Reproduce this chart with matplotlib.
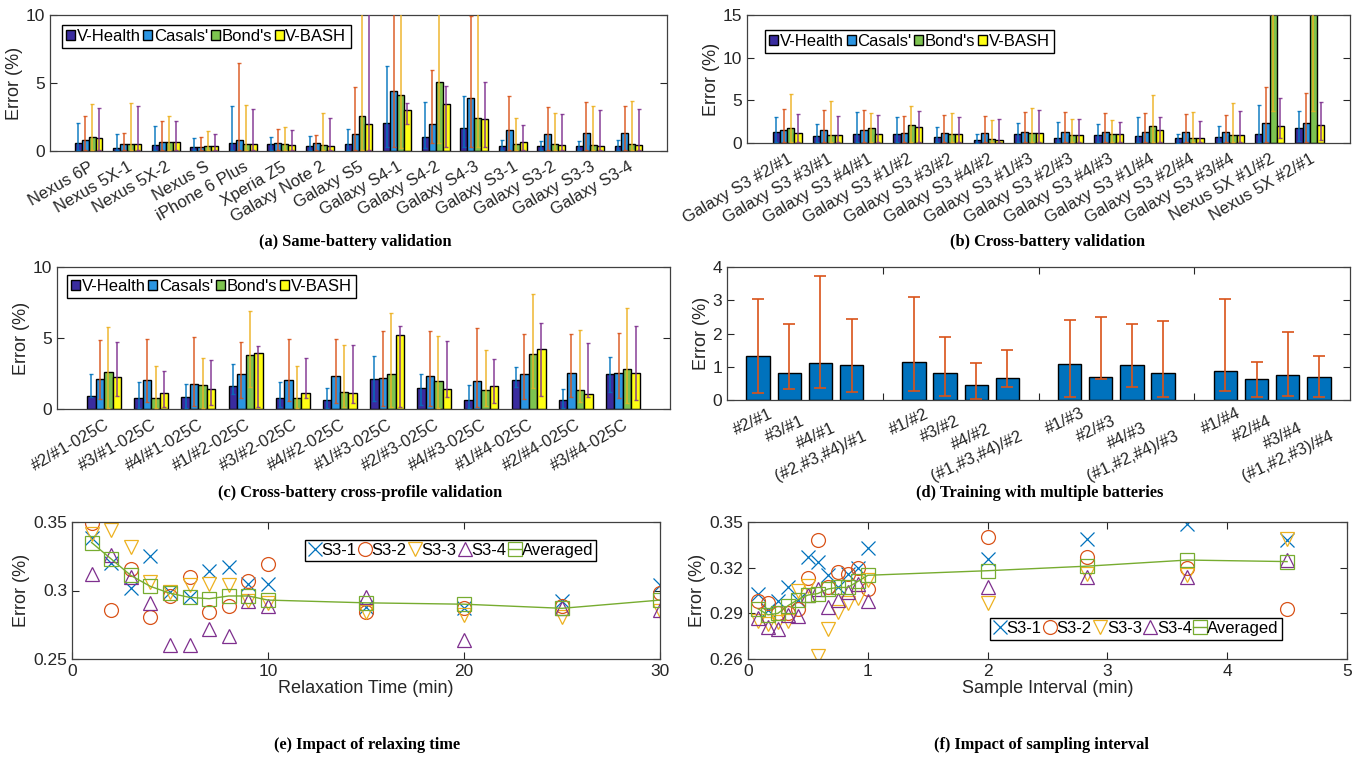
import numpy as np
import matplotlib
matplotlib.use('Agg')
import matplotlib.pyplot as plt
from matplotlib import transforms

W, H = 1361, 761
plt.rcParams['font.family'] = ['Liberation Sans', 'DejaVu Sans']
plt.rcParams['font.size'] = 12

methods = ["V-Health", "Casals'", "Bond's", "V-BASH"]
bar_colors = ['#3a2c9f', '#2b95e2', '#7dc34f', '#ffff14']
err_colors = ['#0072BD', '#D95319', '#EDB120', '#7E2F8E']

# (a) same-battery validation
a_devices = ['Nexus 6P', 'Nexus 5X-1', 'Nexus 5X-2', 'Nexus S', 'iPhone 6 Plus', 'Xperia Z5',
             'Galaxy Note 2', 'Galaxy S5', 'Galaxy S4-1', 'Galaxy S4-2', 'Galaxy S4-3',
             'Galaxy S3-1', 'Galaxy S3-2', 'Galaxy S3-3', 'Galaxy S3-4']
a_vhealth = [0.59, 0.24, 0.44, 0.32, 0.61, 0.49, 0.39, 0.49, 2.03, 1.03, 1.69, 0.34, 0.37, 0.34, 0.34]
a_casals = [0.81, 0.54, 0.64, 0.32, 0.83, 0.59, 0.56, 1.27, 4.38, 1.98, 3.91, 1.56, 1.25, 1.34, 1.34]
a_bond = [1.00, 0.54, 0.68, 0.39, 0.54, 0.49, 0.42, 2.54, 4.13, 5.11, 2.44, 0.51, 0.51, 0.46, 0.51]
a_vbash = [0.95, 0.54, 0.64, 0.37, 0.54, 0.46, 0.34, 1.98, 3.00, 3.47, 2.37, 0.68, 0.42, 0.39, 0.46]
a_vhealth_hi = [2.03, 1.27, 1.81, 0.93, 3.33, 1.00, 1.08, 1.59, 6.26, 3.62, 4.06, 0.78, 0.76, 0.76, 0.81]
a_casals_hi = [2.54, 1.32, 2.18, 1.00, 6.50, 1.64, 1.15, 4.72, 12.0, 5.99, 9.90, 4.01, 3.23, 3.62, 3.33]
a_bond_hi = [3.47, 3.55, 2.57, 1.44, 3.40, 1.74, 2.76, 12.0, 12.0, 12.0, 12.0, 2.44, 2.81, 3.33, 3.69]
a_vbash_hi = [3.18, 3.33, 2.18, 1.27, 3.10, 1.56, 2.40, 12.0, 3.52, 4.79, 5.09, 1.93, 2.74, 3.03, 3.06]
a_vhealth_lo = [0.10, 0.05, 0.10, 0.05, 0.10, 0.10, 0.05, 0.10, 0.32, 0.20, 0.30, 0.05, 0.05, 0.05, 0.05]
a_casals_lo = [0.10, 0.05, 0.10, 0.05, 0.10, 0.10, 0.10, 0.10, 0.30, 0.56, 0.32, 0.10, 0.10, 0.10, 0.10]
a_bond_lo = [0.10, 0.10, 0.10, 0.05, 0.10, 0.10, 0.05, 0.10, 0.20, 0.56, 0.30, 0.05, 0.05, 0.05, 0.05]
a_vbash_lo = [0.10, 0.10, 0.10, 0.05, 0.10, 0.10, 0.05, 0.10, 2.00, 0.30, 0.30, 0.05, 0.05, 0.05, 0.05]

# (b) cross-battery validation
b_pairs = ['Galaxy S3 #2/#1', 'Galaxy S3 #3/#1', 'Galaxy S3 #4/#1', 'Galaxy S3 #1/#2',
           'Galaxy S3 #3/#2', 'Galaxy S3 #4/#2', 'Galaxy S3 #1/#3', 'Galaxy S3 #2/#3',
           'Galaxy S3 #4/#3', 'Galaxy S3 #1/#4', 'Galaxy S3 #2/#4', 'Galaxy S3 #3/#4',
           'Nexus 5X #1/#2', 'Nexus 5X #2/#1']
b_vhealth = [1.29, 0.78, 1.06, 1.06, 0.75, 0.39, 1.06, 0.63, 0.98, 0.86, 0.59, 0.71, 1.02, 1.80]
b_casals = [1.49, 1.53, 1.53, 1.18, 1.22, 1.22, 1.29, 1.29, 1.29, 1.29, 1.29, 1.25, 2.35, 2.35]
b_bond = [1.76, 0.90, 1.76, 2.12, 1.10, 0.47, 1.14, 0.98, 1.06, 1.96, 0.59, 0.90, 30.0, 30.0]
b_vbash = [1.18, 0.90, 1.06, 1.92, 1.02, 0.35, 1.14, 0.98, 1.06, 1.57, 0.59, 0.90, 1.96, 2.08]
b_vhealth_hi = [3.06, 2.27, 3.69, 3.10, 1.88, 1.06, 2.39, 2.47, 2.24, 3.02, 1.06, 2.00, 4.47, 3.80]
b_casals_hi = [4.04, 3.92, 3.92, 3.18, 3.29, 3.22, 3.65, 3.65, 3.57, 3.49, 3.45, 3.29, 6.59, 5.88]
b_bond_hi = [5.69, 4.98, 3.57, 4.35, 3.53, 2.71, 4.12, 2.82, 2.71, 5.65, 3.61, 4.71, 30.0, 30.0]
b_vbash_hi = [3.41, 3.18, 3.33, 3.73, 3.06, 2.86, 3.88, 2.82, 2.47, 3.02, 2.59, 3.76, 5.29, 4.78]
b_vhealth_lo = [0.10, 0.10, 0.10, 0.10, 0.10, 0.05, 0.10, 0.10, 0.10, 0.10, 0.05, 0.10, 0.10, 0.20]
b_casals_lo = [0.10, 0.10, 0.10, 0.10, 0.10, 0.10, 0.10, 0.10, 0.10, 0.10, 0.10, 0.10, 0.10, 0.10]
b_bond_lo = [0.10, 0.10, 0.10, 0.10, 0.10, 0.10, 0.10, 0.10, 0.10, 0.10, 0.10, 0.10, 3.80, 3.80]
b_vbash_lo = [0.10, 0.10, 0.10, 0.10, 0.10, 0.10, 0.10, 0.10, 0.10, 0.10, 0.10, 0.10, 0.60, 0.30]

# (c) cross-battery cross-profile validation
c_pairs = ['#2/#1-025C', '#3/#1-025C', '#4/#1-025C', '#1/#2-025C', '#3/#2-025C', '#4/#2-025C',
           '#1/#3-025C', '#2/#3-025C', '#4/#3-025C', '#1/#4-025C', '#2/#4-025C', '#3/#4-025C']
c_vhealth = [0.93, 0.77, 0.82, 1.61, 0.77, 0.61, 2.08, 1.47, 0.63, 2.06, 0.63, 2.43]
c_casals = [2.10, 2.06, 1.78, 2.45, 2.06, 2.31, 2.20, 2.31, 1.94, 2.43, 2.50, 2.50]
c_bond = [2.62, 0.75, 1.71, 3.83, 0.77, 1.21, 2.45, 1.96, 1.31, 3.88, 1.31, 2.85]
c_vbash = [2.22, 1.10, 1.38, 3.95, 1.14, 1.14, 5.23, 1.40, 1.59, 4.23, 1.03, 2.50]
c_vhealth_hi = [2.43, 1.87, 1.73, 3.18, 1.87, 1.50, 3.74, 2.43, 1.66, 2.99, 1.38, 3.67]
c_casals_hi = [4.84, 4.91, 5.07, 4.74, 4.91, 4.95, 5.47, 5.47, 5.72, 5.28, 5.26, 5.33]
c_bond_hi = [5.79, 3.04, 3.60, 6.89, 3.04, 4.53, 6.78, 5.16, 4.18, 8.10, 5.56, 7.13]
c_vbash_hi = [4.74, 2.71, 3.46, 4.44, 3.57, 4.49, 5.86, 4.81, 3.50, 6.07, 4.67, 5.86]
c_vhealth_lo = [0.86, 0.05, 0.05, 1.03, 0.16, 0.05, 0.58, 0.28, 0.05, 1.52, 0.05, 1.17]
c_casals_lo = [0.68, 0.51, 0.23, 0.75, 0.54, 0.40, 0.23, 0.23, 0.16, 0.70, 0.86, 0.75]
c_bond_lo = [0.05, 0.05, 0.05, 1.57, 0.05, 0.16, 0.16, 0.05, 0.23, 1.50, 0.51, 0.44]
c_vbash_lo = [0.89, 0.16, 0.30, 0.16, 0.77, 0.40, 0.16, 0.86, 0.40, 0.93, 0.86, 0.63]

# (d) training with multiple batteries
d_labels = ['#2/#1', '#3/#1', '#4/#1', '(#2,#3,#4)/#1',
            '#1/#2', '#3/#2', '#4/#2', '(#1,#3,#4)/#2',
            '#1/#3', '#2/#3', '#4/#3', '(#1,#2,#4)/#3',
            '#1/#4', '#2/#4', '#3/#4', '(#1,#2,#3)/#4']
d_pos = [1, 2, 3, 4, 6, 7, 8, 9, 11, 12, 13, 14, 16, 17, 18, 19]
d_mean = [1.33, 0.82, 1.12, 1.05, 1.13, 0.81, 0.45, 0.65, 1.08, 0.69, 1.06, 0.81, 0.88, 0.63, 0.74, 0.70]
d_hi = [3.05, 2.30, 3.72, 2.44, 3.09, 1.88, 1.12, 1.50, 2.41, 2.50, 2.29, 2.37, 3.04, 1.14, 2.05, 1.32]
d_lo = [0.21, 0.32, 0.35, 0.24, 0.28, 0.12, 0.03, 0.38, 0.09, 0.64, 0.40, 0.10, 0.28, 0.10, 0.11, 0.09]

# (e) relaxation time
e_time = [1, 2, 3, 4, 5, 6, 7, 8, 9, 10, 15, 20, 25, 30]
e_s31 = [0.338, 0.320, 0.302, 0.325, 0.299, 0.295, 0.314, 0.317, 0.305, 0.305, 0.288, 0.287, 0.292, 0.304]
e_s32 = [0.349, 0.286, 0.316, 0.281, 0.296, 0.310, 0.284, 0.289, 0.307, 0.319, 0.284, 0.287, 0.289, 0.298]
e_s33 = [0.341, 0.344, 0.332, 0.306, 0.299, 0.304, 0.305, 0.304, 0.292, 0.291, 0.284, 0.282, 0.281, 0.285]
e_s34 = [0.312, 0.326, 0.310, 0.291, 0.260, 0.260, 0.272, 0.267, 0.292, 0.289, 0.295, 0.264, 0.287, 0.286]
e_avg = [0.335, 0.323, 0.311, 0.303, 0.298, 0.295, 0.294, 0.296, 0.296, 0.293, 0.291, 0.290, 0.287, 0.293]

# (f) sampling interval
f_interval = [0.083, 0.167, 0.25, 0.333, 0.417, 0.5, 0.583, 0.667, 0.75, 0.833, 0.917, 1.0,
              2.0, 2.833, 3.667, 4.5]
f_s31 = [0.303, 0.292, 0.298, 0.307, 0.299, 0.327, 0.324, 0.315, 0.307, 0.316, 0.320, 0.333,
         0.326, 0.339, 0.349, 0.338]
f_s32 = [0.298, 0.297, 0.290, 0.290, 0.293, 0.313, 0.338, 0.307, 0.317, 0.316, 0.320, 0.306,
         0.340, 0.327, 0.320, 0.293]
f_s33 = [0.285, 0.283, 0.284, 0.285, 0.305, 0.308, 0.262, 0.280, 0.291, 0.297, 0.300, 0.312,
         0.297, 0.316, 0.315, 0.339]
f_s34 = [0.287, 0.281, 0.280, 0.289, 0.288, 0.302, 0.306, 0.294, 0.299, 0.304, 0.309, 0.298,
         0.307, 0.314, 0.314, 0.325]
f_avg = [0.293, 0.289, 0.290, 0.295, 0.299, 0.302, 0.303, 0.306, 0.307, 0.307, 0.311, 0.315,
         0.318, 0.321, 0.325, 0.324]

fig = plt.figure(figsize=(W / 100, H / 100), dpi=100)


def px_axes(l, r, t, b):
    return fig.add_axes([l / W, 1 - b / H, (r - l) / W, (b - t) / H])


def style(ax):
    ax.tick_params(direction='in', length=5, right=True, top=True, colors='#262626', labelsize=12.5)
    for s in ax.spines.values():
        s.set_color('#404040')
        s.set_linewidth(0.9)


def caption(cx, cy, txt):
    fig.text(cx / W, 1 - cy / H, txt, ha='center', va='center', family='Liberation Serif',
             weight='bold', size=11.8)


def grouped_bars(ax, labels, vals, his, los, ymax, legend_at):
    x = np.arange(1, len(labels) + 1)
    w = 0.18
    for k in range(4):
        xs = x + (k - 1.5) * w
        hi = np.array(his[k])
        lo = np.array(los[k])
        ax.bar(xs, vals[k], w, color=bar_colors[k], edgecolor='black', linewidth=1,
               label=methods[k], zorder=2)
        ax.errorbar(xs, (hi + lo) / 2, yerr=(hi - lo) / 2, fmt='none', ecolor=err_colors[k],
                    elinewidth=1.2, capsize=1.2, capthick=1, alpha=0.85, zorder=3)
    style(ax)
    ax.set_xlim(0, len(labels) + 1)
    ax.set_ylim(0, ymax)
    ax.set_xticks(x)
    ax.set_xticklabels(labels, rotation=30, ha='right', rotation_mode='anchor', fontsize=12)
    ax.tick_params(axis='x', length=0, pad=6)
    ax.set_ylabel('Error (%)', fontsize=13, color='#262626', labelpad=2)
    ax.legend(ncol=4, loc='upper left', bbox_to_anchor=legend_at, fontsize=12,
              handlelength=0.55, handleheight=0.55, handletextpad=0.1, columnspacing=0.15,
              borderpad=0.25, borderaxespad=0, fancybox=False, framealpha=1,
              edgecolor='black')


# (a)
ax = px_axes(50, 667, 15, 151)
grouped_bars(ax, a_devices, [a_vhealth, a_casals, a_bond, a_vbash],
             [a_vhealth_hi, a_casals_hi, a_bond_hi, a_vbash_hi],
             [a_vhealth_lo, a_casals_lo, a_bond_lo, a_vbash_lo], 10, (0.019, 0.93))
ax.set_yticks([0, 5, 10])
caption(355, 242, '(a) Same-battery validation')

# (b)
ax = px_axes(747, 1350, 15, 143)
grouped_bars(ax, b_pairs, [b_vhealth, b_casals, b_bond, b_vbash],
             [b_vhealth_hi, b_casals_hi, b_bond_hi, b_vbash_hi],
             [b_vhealth_lo, b_casals_lo, b_bond_lo, b_vbash_lo], 15, (0.03, 0.885))
ax.set_yticks([0, 5, 10, 15])
caption(1048, 242, '(b) Cross-battery validation')

# (c)
ax = px_axes(57, 670, 267, 409)
grouped_bars(ax, c_pairs, [c_vhealth, c_casals, c_bond, c_vbash],
             [c_vhealth_hi, c_casals_hi, c_bond_hi, c_vbash_hi],
             [c_vhealth_lo, c_casals_lo, c_bond_lo, c_vbash_lo], 10, (0.016, 0.945))
ax.set_yticks([0, 5, 10])
caption(360, 493, '(c) Cross-battery cross-profile validation')

# (d)
ax = px_axes(727, 1350, 267, 400)
d_mean_a = np.array(d_mean)
ax.bar(d_pos, d_mean, 0.75, color='#0072BD', edgecolor='black', linewidth=1, zorder=2)
ax.errorbar(d_pos, d_mean, yerr=[d_mean_a - np.array(d_lo), np.array(d_hi) - d_mean_a],
            fmt='none', ecolor='#D95319', elinewidth=1.2, capsize=4, capthick=1.2, zorder=3)
style(ax)
ax.set_xlim(0, 20)
ax.set_ylim(0, 4)
ax.set_yticks([0, 1, 2, 3, 4])
ax.set_xticks([5, 10, 15])
ax.set_xticklabels([])
ax.set_ylabel('Error (%)', fontsize=13, color='#262626', labelpad=2)
for k, (p, lab) in enumerate(zip(d_pos, d_labels)):
    off = transforms.ScaledTranslation(0, -(0.06 + 0.075 * (k % 4)), fig.dpi_scale_trans)
    ax.text(p + 0.35, 0, lab, transform=ax.get_xaxis_transform() + off, rotation=25,
            ha='right', va='top', rotation_mode='anchor', fontsize=12, color='#262626')
caption(1040, 493, '(d) Training with multiple batteries')


def scatter_panel(ax, x, series, legend_at):
    specs = [('x', '#0072BD', 'S3-1'), ('o', '#D95319', 'S3-2'), ('v', '#EDB120', 'S3-3'),
             ('^', '#7E2F8E', 'S3-4')]
    for (m, c, lab), y in zip(specs, series[:4]):
        ax.plot(x, y, m, color=c, mfc='none', ms=10, mew=0.9, label=lab, ls='none')
    ax.plot(x, series[4], '-s', color='#77AC30', mfc='none', ms=10, mew=0.9, lw=1,
            label='Averaged')
    style(ax)
    ax.set_ylabel('Error (%)', fontsize=13, color='#262626', labelpad=2)
    ax.legend(ncol=5, loc='upper left', bbox_to_anchor=legend_at, fontsize=12,
              handlelength=0.8, handletextpad=0.0, columnspacing=0.1, borderpad=0.2,
              borderaxespad=0, fancybox=False, framealpha=1, edgecolor='black')


# (e)
ax = px_axes(72, 660, 522, 659)
scatter_panel(ax, e_time, [e_s31, e_s32, e_s33, e_s34, e_avg], (0.396, 0.87))
ax.set_xlim(0, 30)
ax.set_ylim(0.25, 0.35)
ax.set_xticks([0, 10, 20, 30])
ax.set_yticks([0.25, 0.3, 0.35])
ax.set_yticklabels(['0.25', '0.3', '0.35'])
ax.set_xlabel('Relaxation Time (min)', fontsize=13, color='#262626', labelpad=1)
caption(367, 745, '(e) Impact of relaxing time')

# (f)
ax = px_axes(748, 1347, 522, 659)
scatter_panel(ax, f_interval, [f_s31, f_s32, f_s33, f_s34, f_avg], (0.404, 0.30))
ax.set_xlim(0, 5)
ax.set_ylim(0.26, 0.35)
ax.set_xticks([0, 1, 2, 3, 4, 5])
ax.set_yticks([0.26, 0.29, 0.32, 0.35])
ax.set_xlabel('Sample Interval (min)', fontsize=13, color='#262626', labelpad=1)
caption(1041, 745, '(f) Impact of sampling interval')

fig.savefig('out.png', dpi=100)
